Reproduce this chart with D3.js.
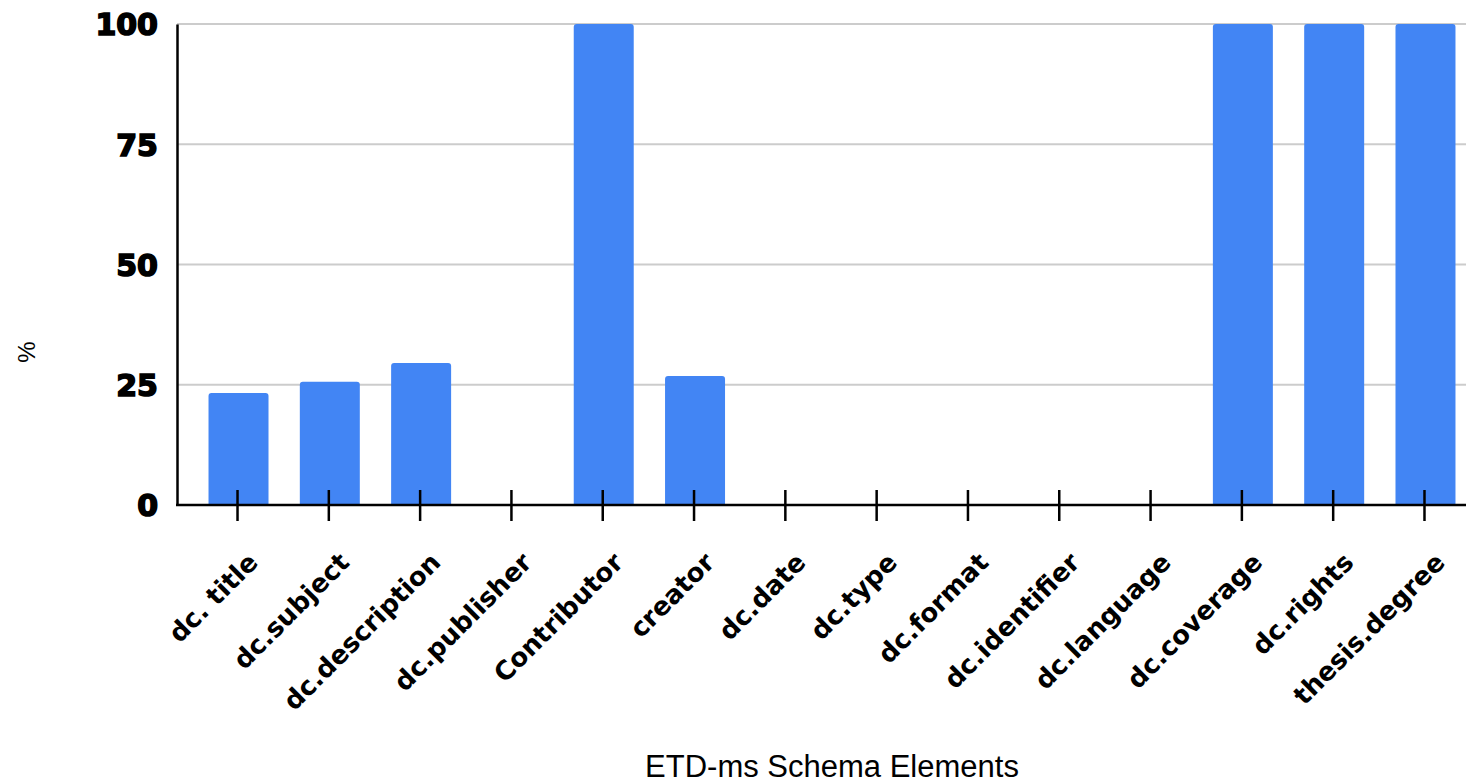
<!DOCTYPE html>
<html><head><meta charset="utf-8">
<script src="https://cdn.jsdelivr.net/npm/d3@7"></script>
<style>body{margin:0;background:#fff;} svg{display:block;}</style>
</head><body>
<svg id="chart" width="1468" height="783"></svg>
<script>
const categories = ["dc. title","dc.subject","dc.description","dc.publisher","Contributor","creator","dc.date","dc.type","dc.format","dc.identifier","dc.language","dc.coverage","dc.rights","thesis.degree"];
const values = [23.3,25.6,29.5,0,100,26.8,0,0,0,0,0,100,100,100];
const yTicks = [0,25,50,75,100];
const xTitle = "ETD-ms Schema Elements";
const yTitle = "%";

const svg = d3.select("#chart");
const x = d3.scaleBand().domain(categories).range([192,1470]).paddingInner(0.343).paddingOuter(0.17);
const y = d3.scaleLinear().domain([0,100]).range([505,24]);
const axisLeft = 177, gridRight = 1466;

// gridlines
svg.append("g").selectAll("line").data(yTicks.filter(d=>d>0)).join("line")
  .attr("x1",axisLeft).attr("x2",gridRight)
  .attr("y1",d=>y(d)).attr("y2",d=>y(d))
  .attr("stroke","#cccccc").attr("stroke-width",2);

// bars with rounded top
const r = 3;
svg.append("g").selectAll("path").data(categories.map((c,i)=>({c,v:values[i]})).filter(d=>d.v>0)).join("path")
  .attr("fill","#4285f4")
  .attr("d",d=>{
    const x0=x(d.c)+1, w=x.bandwidth(), y0=y(d.v), y1=y(0);
    return `M${x0},${y1}V${y0+r}Q${x0},${y0} ${x0+r},${y0}H${x0+w-r}Q${x0+w},${y0} ${x0+w},${y0+r}V${y1}Z`;
  });

// y axis
const yAxis = d3.axisLeft(y).tickValues(yTicks).tickSize(0).tickPadding(19);
const gy = svg.append("g").attr("transform",`translate(${axisLeft},0)`).call(yAxis);
gy.select(".domain").attr("stroke","#000").attr("stroke-width",2.5);
gy.selectAll("text").attr("font-family","'DejaVu Sans',sans-serif")
  .attr("font-weight",700).attr("font-size",30).attr("fill","#000")
  .attr("stroke","#000").attr("stroke-width",1.6).attr("dy","0.36em");

// x axis
const xAxis = d3.axisBottom(x).tickSize(0);
const gx = svg.append("g").attr("transform",`translate(0,${y(0)})`).call(xAxis);
gx.select(".domain").remove();
svg.append("line").attr("x1",axisLeft-1).attr("x2",gridRight).attr("y1",y(0)).attr("y2",y(0)).attr("stroke","#000").attr("stroke-width",2.5);
gx.selectAll(".tick").append("line").attr("y1",-15).attr("y2",16).attr("stroke","#000").attr("stroke-width",2.5);
gx.selectAll("text")
  .attr("font-family","'DejaVu Sans',sans-serif").attr("font-weight",700).attr("font-size",26).attr("fill","#000")
  .attr("text-anchor","end").attr("dy",0).attr("y",0)
  .attr("transform","translate(22,59) rotate(-45)");

// titles
svg.append("text").attr("x",832).attr("y",777).attr("text-anchor","middle")
  .attr("font-family","'Liberation Sans',Arial,sans-serif").attr("font-size",31).attr("fill","#000").text(xTitle);
svg.append("text").attr("transform","translate(35,352) rotate(-90)").attr("text-anchor","middle")
  .attr("font-family","'Liberation Sans',Arial,sans-serif").attr("font-size",24).attr("fill","#000").text(yTitle);
</script>
</body></html>
